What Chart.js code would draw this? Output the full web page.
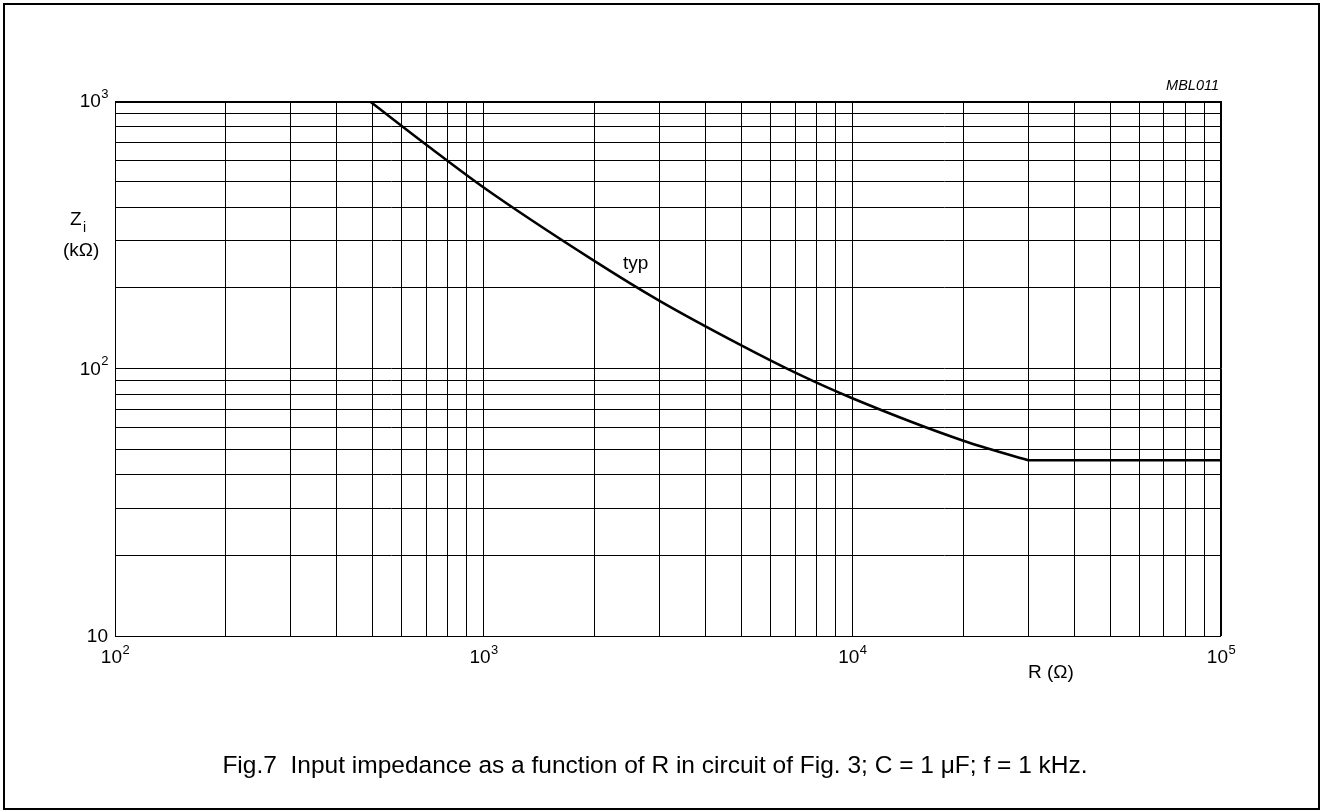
<!doctype html>
<html>
<head>
<meta charset="utf-8">
<title>Fig.7 Input impedance</title>
<script src="https://cdn.jsdelivr.net/npm/chart.js@4.4.1/dist/chart.umd.min.js"></script>
<style>
  body { margin: 0; background: #fff; }
</style>
</head>
<body>
<canvas id="zChart" width="1323" height="812"></canvas>
<script>
// R in ohm, Zi in kohm
const rValues = [490, 700, 1000, 2000, 3000, 5000, 7000, 10000, 20000, 30000, 100000];
const zValues = [1000, 685, 475, 252, 179, 122, 96.5, 77.4, 53.7, 45.4, 45.4];
const kneeIndex = 9; // curve flattens out from R = 30k

const xTickValues = [100, 1000, 10000, 100000];
const xTickExps = ['2', '3', '4', '5'];
const yTickValues = [10, 100, 1000];
const yTickExps = ['', '2', '3'];

const FONT = '"Liberation Sans", Arial, sans-serif';

// grid at 1..9 x 10^n inside [min, max]
function logGrid(min, max) {
  var out = [];
  for (var d = min; d < max; d *= 10) {
    for (var m = 1; m <= 9; m++) out.push({value: m * d});
  }
  out.push({value: max});
  return out;
}

function drawPow(ctx, base, exp, x, y, align) {
  ctx.font = '19px ' + FONT;
  var wb = ctx.measureText(base).width;
  ctx.font = '13px ' + FONT;
  var we = exp ? ctx.measureText(exp).width : 0;
  var w = wb + we;
  var x0 = align == 'right' ? x - w : x - w / 2;
  ctx.textAlign = 'left';
  ctx.textBaseline = 'middle';
  ctx.font = '19px ' + FONT;
  ctx.fillText(base, x0, y);
  if (exp) {
    ctx.font = '13px ' + FONT;
    ctx.fillText(exp, x0 + wb + 0.5, y - 8);
  }
}

const textPlugin = {
  id: 'figText',
  afterDraw: function(chart) {
    var ctx = chart.ctx;
    var a = chart.chartArea;
    var xs = chart.scales.x, ys = chart.scales.y;
    ctx.save();
    ctx.fillStyle = '#000';
    ctx.strokeStyle = '#000';

    // plot frame, heavier top edge
    ctx.lineWidth = 1;
    ctx.strokeRect(a.left + 0.5, a.top + 0.5, a.right - a.left - 1, a.bottom - a.top);
    ctx.lineWidth = 2;
    ctx.beginPath();
    ctx.moveTo(a.left, a.top + 1);
    ctx.lineTo(a.right, a.top + 1);
    ctx.stroke();

    // outer frame
    ctx.strokeRect(4, 4, 1315, 805);

    for (var i = 0; i < xTickValues.length; i++) {
      drawPow(ctx, '10', xTickExps[i], xs.getPixelForValue(xTickValues[i]), a.bottom + 22, 'center');
    }
    for (var j = 0; j < yTickValues.length; j++) {
      drawPow(ctx, '10', yTickExps[j], a.left - 7, ys.getPixelForValue(yTickValues[j]) + 1, 'right');
    }

    ctx.textBaseline = 'middle';
    ctx.textAlign = 'left';
    ctx.font = '19px ' + FONT;
    ctx.fillText('Z', 70, 220);
    ctx.font = '14px ' + FONT;
    ctx.fillText('i', 83, 228);
    ctx.font = '19px ' + FONT;
    ctx.fillText('(k\u03A9)', 63, 251);
    ctx.fillText('R (\u03A9)', 1028, 673);
    ctx.fillText('typ', 623, 264);

    ctx.font = 'italic 14.5px ' + FONT;
    ctx.textAlign = 'right';
    ctx.fillText('MBL011', 1219, 86);

    ctx.font = '24.5px ' + FONT;
    ctx.textAlign = 'center';
    ctx.textBaseline = 'alphabetic';
    ctx.fillText('Fig.7  Input impedance as a function of R in circuit of Fig. 3; C = 1 \u03BCF; f = 1 kHz.', 655, 773);
    ctx.restore();
  }
};

var points = rValues.map(function(r, i) { return {x: r, y: zValues[i]}; });

new Chart(document.getElementById('zChart'), {
  type: 'scatter',
  data: {
    datasets: [{
      label: 'typ',
      data: points.slice(0, kneeIndex + 1),
      showLine: true,
      borderColor: '#000',
      borderWidth: 2.5,
      pointRadius: 0,
      cubicInterpolationMode: 'monotone',
      fill: false
    }, {
      label: 'typ flat',
      data: points.slice(kneeIndex),
      showLine: true,
      borderColor: '#000',
      borderWidth: 2.5,
      pointRadius: 0,
      fill: false
    }]
  },
  options: {
    responsive: false,
    animation: false,
    layout: { padding: { left: 115, right: 102, top: 101, bottom: 176 } },
    plugins: { legend: { display: false }, tooltip: { enabled: false } },
    scales: {
      x: {
        type: 'logarithmic',
        min: 100,
        max: 100000,
        afterBuildTicks: function(s) { s.ticks = logGrid(100, 100000); },
        ticks: { display: false, autoSkip: false },
        grid: { color: '#000', lineWidth: 1, drawTicks: false },
        border: { display: false }
      },
      y: {
        type: 'logarithmic',
        min: 10,
        max: 1000,
        afterBuildTicks: function(s) { s.ticks = logGrid(10, 1000); },
        ticks: { display: false, autoSkip: false },
        grid: { color: '#000', lineWidth: 1, drawTicks: false },
        border: { display: false }
      }
    }
  },
  plugins: [textPlugin]
});
</script>
</body>
</html>
